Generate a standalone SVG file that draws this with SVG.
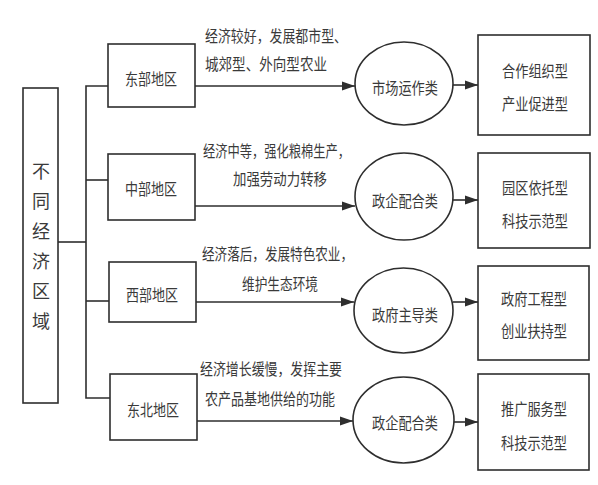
<svg xmlns="http://www.w3.org/2000/svg" width="598" height="485" viewBox="0 0 598 485">
<defs>
<style>
.b{fill:#fff;stroke:#2e2e2e;stroke-width:1.6}
.c{fill:none;stroke:#2e2e2e;stroke-width:1.6}
.t{font-family:"Noto Sans CJK SC","Noto Sans CJK TC",sans-serif;font-size:16px;fill:#3a3a3a;dominant-baseline:central}
.m{text-anchor:middle}
.big{font-size:18px}
</style>
<marker id="ah" markerWidth="14" markerHeight="10" refX="13" refY="5" orient="auto" markerUnits="userSpaceOnUse">
<path d="M0,0.5 L13,5 L0,9.5 Z" fill="#2e2e2e"/>
</marker>
</defs>
<rect width="598" height="485" fill="#fff"/>
<g id="connectors">
<line class="c" x1="58" y1="242" x2="86" y2="242"/>
<polyline class="c" points="108,86 86,86 86,398 110,398"/>
<line class="c" x1="86" y1="180" x2="108" y2="180"/>
<line class="c" x1="86" y1="301" x2="109" y2="301"/>
<line class="c" x1="195" y1="86" x2="355" y2="86" marker-end="url(#ah)"/>
<line class="c" x1="195" y1="206" x2="355" y2="206" marker-end="url(#ah)"/>
<line class="c" x1="196" y1="302" x2="354" y2="302" marker-end="url(#ah)"/>
<line class="c" x1="197" y1="421" x2="353" y2="421" marker-end="url(#ah)"/>
<line class="c" x1="453" y1="85" x2="478" y2="85" marker-end="url(#ah)"/>
<line class="c" x1="453" y1="200" x2="478" y2="200" marker-end="url(#ah)"/>
<line class="c" x1="453" y1="302" x2="478" y2="302" marker-end="url(#ah)"/>
<line class="c" x1="454" y1="422" x2="478" y2="422" marker-end="url(#ah)"/>
<text class="t" x="205" y="35" textLength="142" lengthAdjust="spacingAndGlyphs">经济较好，发展都市型、</text>
<text class="t" x="205" y="63" textLength="122" lengthAdjust="spacingAndGlyphs">城郊型、外向型农业</text>
<text class="t" x="203" y="150" textLength="147" lengthAdjust="spacingAndGlyphs">经济中等，强化粮棉生产，</text>
<text class="t" x="233" y="178" textLength="94" lengthAdjust="spacingAndGlyphs">加强劳动力转移</text>
<text class="t" x="202" y="253" textLength="151" lengthAdjust="spacingAndGlyphs">经济落后，发展特色农业，</text>
<text class="t" x="242" y="283" textLength="76" lengthAdjust="spacingAndGlyphs">维护生态环境</text>
<text class="t" x="200" y="368" textLength="142" lengthAdjust="spacingAndGlyphs">经济增长缓慢，发挥主要</text>
<text class="t" x="205" y="398" textLength="130" lengthAdjust="spacingAndGlyphs">农产品基地供给的功能</text>
</g>
<g id="root">
<rect class="b" x="23" y="88" width="35" height="315"/>
<text class="t m big" x="41" y="170">不</text>
<text class="t m big" x="41" y="200">同</text>
<text class="t m big" x="41" y="230">经</text>
<text class="t m big" x="41" y="260">济</text>
<text class="t m big" x="41" y="290">区</text>
<text class="t m big" x="41" y="320">域</text>
</g>
<g id="east">
<rect class="b" x="108" y="44" width="87" height="63"/>
<text class="t m" x="151" y="78" textLength="52" lengthAdjust="spacingAndGlyphs">东部地区</text>
</g>
<g id="central">
<rect class="b" x="108" y="154" width="87" height="66"/>
<text class="t m" x="151" y="188" textLength="52" lengthAdjust="spacingAndGlyphs">中部地区</text>
</g>
<g id="west">
<rect class="b" x="109" y="262" width="87" height="60"/>
<text class="t m" x="152" y="294" textLength="52" lengthAdjust="spacingAndGlyphs">西部地区</text>
</g>
<g id="northeast">
<rect class="b" x="110" y="374" width="87" height="66"/>
<text class="t m" x="153" y="409" textLength="52" lengthAdjust="spacingAndGlyphs">东北地区</text>
</g>
<g id="market">
<ellipse class="b" cx="404" cy="83.5" rx="49" ry="41.5"/>
<text class="t m" x="405" y="87" textLength="66" lengthAdjust="spacingAndGlyphs">市场运作类</text>
</g>
<g id="govent1">
<ellipse class="b" cx="404" cy="196.5" rx="49" ry="43.5"/>
<text class="t m" x="405" y="200" textLength="66" lengthAdjust="spacingAndGlyphs">政企配合类</text>
</g>
<g id="govled">
<ellipse class="b" cx="403.5" cy="310.5" rx="49.5" ry="42.5"/>
<text class="t m" x="405" y="314" textLength="66" lengthAdjust="spacingAndGlyphs">政府主导类</text>
</g>
<g id="govent2">
<ellipse class="b" cx="403.5" cy="420" rx="50.5" ry="43"/>
<text class="t m" x="405" y="422" textLength="66" lengthAdjust="spacingAndGlyphs">政企配合类</text>
</g>
<g id="coop">
<rect class="b" x="478" y="35" width="112" height="100"/>
<text class="t m" x="535" y="70" textLength="66" lengthAdjust="spacingAndGlyphs">合作组织型</text>
<text class="t m" x="535" y="103" textLength="66" lengthAdjust="spacingAndGlyphs">产业促进型</text>
</g>
<g id="park">
<rect class="b" x="478" y="153" width="112" height="95"/>
<text class="t m" x="535" y="187" textLength="66" lengthAdjust="spacingAndGlyphs">园区依托型</text>
<text class="t m" x="535" y="220" textLength="66" lengthAdjust="spacingAndGlyphs">科技示范型</text>
</g>
<g id="govproj">
<rect class="b" x="478" y="266" width="111" height="94"/>
<text class="t m" x="534" y="298" textLength="66" lengthAdjust="spacingAndGlyphs">政府工程型</text>
<text class="t m" x="534" y="330" textLength="66" lengthAdjust="spacingAndGlyphs">创业扶持型</text>
</g>
<g id="extension">
<rect class="b" x="478" y="374" width="111" height="96"/>
<text class="t m" x="534" y="408" textLength="66" lengthAdjust="spacingAndGlyphs">推广服务型</text>
<text class="t m" x="534" y="442" textLength="66" lengthAdjust="spacingAndGlyphs">科技示范型</text>
</g>
</svg>
